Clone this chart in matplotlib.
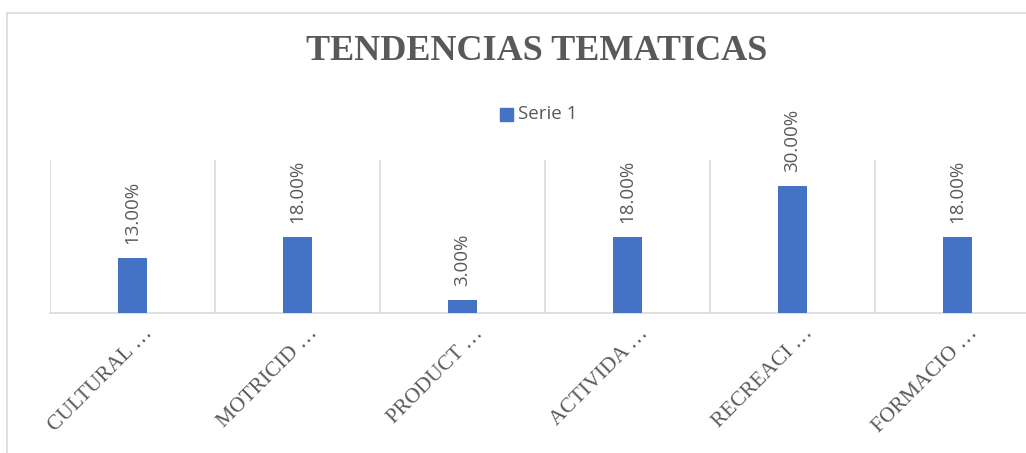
import numpy as np
import matplotlib.pyplot as plt
import matplotlib.transforms as mtransforms
from matplotlib.lines import Line2D
from matplotlib.patches import Rectangle

categories = ['CULTURAL …', 'MOTRICID …', 'PRODUCT …', 'ACTIVIDA …', 'RECREACI …', 'FORMACIO …']
values = [13.0, 18.0, 3.0, 18.0, 30.0, 18.0]
series_name = 'Serie 1'
title = 'TENDENCIAS TEMATICAS'

blue = '#4472C4'
grey = '#595959'
gridc = '#D9D9D9'

W, H = 1026, 453
fig = plt.figure(figsize=(W / 100, H / 100), dpi=100)

# outer chart frame (top and left edges visible)
fig.add_artist(Line2D([7 / W, 7 / W], [0, 1 - 13 / H], color=gridc, lw=1.2))
fig.add_artist(Line2D([7 / W, 1], [1 - 13 / H, 1 - 13 / H], color=gridc, lw=1.2))

# plot area: 50..1040 px wide, 160..313 px tall
ax = fig.add_axes([50 / W, (H - 313) / H, 990 / W, 153 / H])
x = np.arange(len(categories))
bars = ax.bar(x, values, width=0.18, color=blue, zorder=3)
ax.set_xlim(-0.5, len(categories) - 0.5)
ax.set_ylim(0, 36.2)

for s in ['top', 'right', 'left']:
    ax.spines[s].set_visible(False)
ax.spines['bottom'].set_color(gridc)
ax.spines['bottom'].set_linewidth(1.2)
ax.set_yticks([])
ax.set_xticks(np.arange(-0.5, len(categories)), minor=True)
ax.grid(which='minor', axis='x', color=gridc, lw=1.2, zorder=0)
ax.tick_params(axis='x', which='both', length=0, pad=8)
ax.set_xticks(x)
ax.set_xticklabels(categories, rotation=45, ha='right', va='top',
                   rotation_mode='anchor', family='Liberation Serif',
                   fontsize=15.5, color=grey)
shift = mtransforms.ScaledTranslation(0.11, 0, fig.dpi_scale_trans)
for lab in ax.get_xticklabels():
    lab.set_transform(lab.get_transform() + shift)

for b, v in zip(bars, values):
    ax.annotate(f'{v:.2f}%', (b.get_x() + b.get_width() / 2, b.get_height()),
                xytext=(0, 10), textcoords='offset points', rotation=90,
                ha='center', va='bottom', fontsize=13.5, color=grey,
                family='Open Sans')

fig.text(537 / W, 1 - 52 / H, title, ha='center', va='center',
         family='Liberation Serif', fontweight='bold', fontsize=26, color=grey)

# legend
fig.add_artist(Rectangle((500 / W, 1 - 121 / H), 13 / W, 13 / H,
                         transform=fig.transFigure, color=blue))
fig.text(518 / W, 1 - 114 / H, series_name, ha='left', va='center',
         family='Open Sans', fontsize=13.5, color=grey)

fig.savefig('out.png', dpi=100)
